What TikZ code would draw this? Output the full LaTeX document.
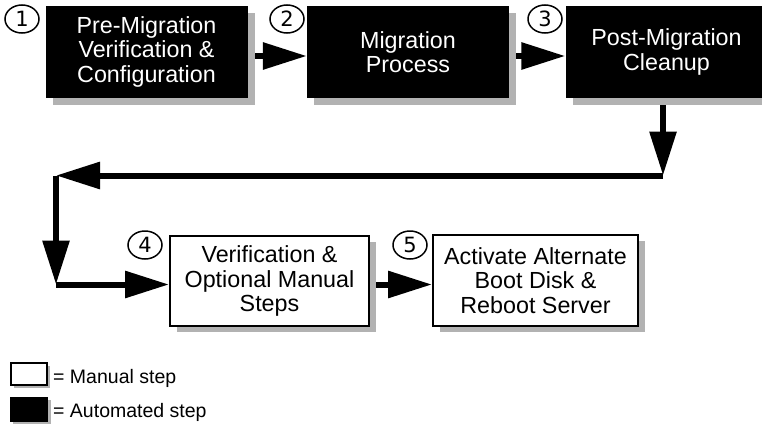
\documentclass[tikz,border=0pt]{standalone}
\usepackage{fontspec}
\setmainfont{Liberation Sans}
\newfontfamily\numfont{DejaVu Sans}
\usetikzlibrary{arrows.meta,shapes.geometric,shadows}
\pgfdeclarelayer{background}
\pgfsetlayers{background,main}
\definecolor{shadowgray}{RGB}{178,178,178}
\tikzset{
  boxtext/.style={inner sep=0pt, align=center, font=\fontsize{23.3}{24.5}\selectfont},
  autobox/.style={boxtext, fill=black, text=white, minimum width=202pt, minimum height=92pt,
    drop shadow={shadow xshift=7pt, shadow yshift=-7pt, fill=shadowgray, opacity=1}},
  manbox/.style={boxtext, fill=white, draw=black, line width=2pt, text=black,
    drop shadow={shadow xshift=7pt, shadow yshift=-6pt, fill=shadowgray, opacity=1}},
  numcirc/.style={ellipse, draw=black, line width=1.5pt, minimum width=34pt, minimum height=28pt,
    inner sep=0pt, font=\numfont\fontsize{21}{21}\selectfont},
  arr/.style={line width=6pt, -{Triangle[length=44pt,width=26pt]}},
  legtext/.style={anchor=base west, inner sep=0pt, font=\fontsize{19.5}{22}\selectfont},
}
\begin{document}
\begin{tikzpicture}[x=1pt,y=-1pt]
\useasboundingbox (0,0) rectangle (762,423);
% main boxes
\node[autobox] (b1) at (146.5,51.5) {Pre-Migration\\Verification \&\\Configuration};
\node[autobox] (b2) at (408,52) {Migration\\Process};
\node[autobox] (b3) at (666.5,52) {Post-Migration\\Cleanup};
\node[manbox, minimum width=199pt, minimum height=90pt] (b4) at (269.5,281) {Verification \&\\Optional Manual\\Steps};
\node[manbox, minimum width=205pt, minimum height=91pt] (b5) at (535.5,280.5) {Activate Alternate\\Boot Disk \&\\Reboot Server};
% step numbers
\node[numcirc] (n1) at (22,19) {1};
\node[numcirc] (n2) at (287,19) {2};
\node[numcirc] (n3) at (545,19) {3};
\node[numcirc] (n4) at (145,245) {4};
\node[numcirc] (n5) at (410,245) {5};
% routing points
\coordinate (r1) at (0,56);
\coordinate (c1) at (663,175.5);
\coordinate (c2) at (56,175.5);
\coordinate (c3) at (56,284.5);
\begin{pgfonlayer}{background}
\draw[arr] (b1.east |- r1) -- (b2.west |- r1);
\draw[arr] (b2.east |- r1) -- (b3.west |- r1);
\draw[arr] (b3.south -| c1) -- (c1);
\draw[arr] (c1) -- (c2);
\draw[arr] (c2) -- (c3);
\draw[arr] (c3) -- (b4.west |- c3);
\draw[arr] (b4.east |- c3) -- (b5.west |- c3);
\end{pgfonlayer}
% legend
\node[fill=white, draw=black, line width=2pt, minimum width=36pt, minimum height=22pt, inner sep=0pt,
  drop shadow={shadow xshift=3pt, shadow yshift=-3pt, fill=shadowgray, opacity=1}] (lm) at (28.5,373.5) {};
\node[fill=black, minimum width=38pt, minimum height=25pt, inner sep=0pt,
  drop shadow={shadow xshift=3pt, shadow yshift=-3pt, fill=shadowgray, opacity=1}] (la) at (29,409.5) {};
\node[legtext] (tm) at (53,383) {= Manual step};
\node[legtext] (ta) at (53,417) {= Automated step};
\end{tikzpicture}
\end{document}
